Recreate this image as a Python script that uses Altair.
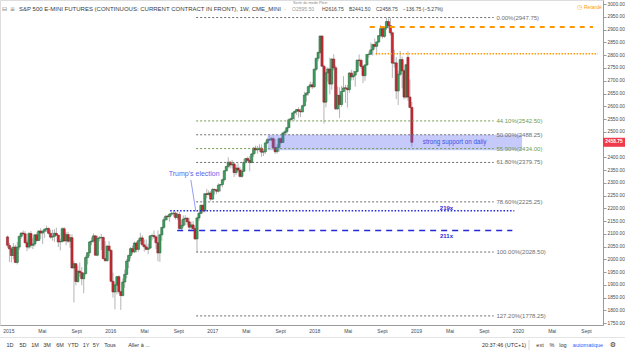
import altair as alt
import numpy as np
import pandas as pd

# ---------------- data: weekly candles (Mondays) ----------------
first_week = "2014-12-29"

open_ = [
    # 2015 (from 2014-12-29)
    2088, 2054, 2041, 2015, 2048, 1988, 2048, 2090, 2103, 2100,
    2065, 2048, 2101, 2055, 2060, 2096, 2074, 2111, 2103, 2110,
    2118, 2121, 2102, 2087, 2090, 2102, 2095, 2068, 2070, 2120,
    2072, 2097, 2071, 2085, 1966, 1983, 1913, 1954, 1948, 1924,
    1944, 2007, 2026, 2068, 2072, 2092, 2016, 2083, 2084, 2086,
    2003, 1995, 2052,
    # 2016
    2035, 1914, 1872, 1899, 1932, 1873, 1858, 1911, 1941, 1993,
    2015, 2042, 2029, 2064, 2039, 2073, 2084, 2057, 2049, 2039,
    2044, 2092, 2093, 2088, 2065, 2025, 2096, 2125, 2155, 2169,
    2167, 2177, 2180, 2181, 2164, 2176, 2121, 2133, 2158, 2161,
    2147, 2126, 2135, 2120, 2080, 2162, 2180, 2212, 2190, 2257,
    2254, 2260,
    # 2017
    2236, 2274, 2272, 2267, 2291, 2293, 2312, 2347, 2364, 2381,
    2370, 2374, 2340, 2358, 2350, 2325, 2345, 2380, 2395, 2388,
    2379, 2413, 2436, 2429, 2431, 2436, 2420, 2422, 2456, 2469,
    2468, 2473, 2438, 2422, 2439, 2473, 2458, 2495, 2500, 2516,
    2547, 2551, 2574, 2580, 2587, 2581, 2578, 2602, 2644, 2652,
    2677, 2684,
    # 2018
    2676, 2745, 2788, 2811, 2875, 2757, 2616, 2731, 2746, 2687,
    2785, 2751, 2590, 2643, 2607, 2658, 2672, 2671, 2665, 2730,
    2715, 2722, 2736, 2781, 2780, 2756, 2720, 2762, 2803, 2804,
    2821, 2842, 2835, 2852, 2877, 2904, 2874, 2907, 2932, 2916,
    2888, 2769, 2770, 2660, 2725, 2783, 2739, 2636, 2792, 2636,
    2595.5,
]

high = [
    2093, 2064, 2049, 2064, 2057, 2068, 2094, 2105, 2113, 2110,
    2077, 2107, 2111, 2083, 2100, 2106, 2114, 2122, 2115, 2121,
    2132, 2125, 2116, 2116, 2118, 2124, 2096, 2080, 2125, 2126,
    2107, 2108, 2099, 2098, 1995, 1984, 1976, 1988, 1970, 1950,
    2015, 2028, 2072, 2086, 2102, 2095, 2093, 2092, 2100, 2089,
    2071, 2057, 2072,
    2040, 1948, 1908, 1935, 1938, 1877, 1925, 1960, 2001, 2018,
    2048, 2053, 2070, 2069, 2083, 2104, 2094, 2077, 2078, 2062,
    2094, 2100, 2113, 2095, 2113, 2100, 2127, 2165, 2173, 2175,
    2182, 2186, 2188, 2187, 2183, 2186, 2155, 2172, 2173, 2166,
    2163, 2148, 2150, 2129, 2167, 2186, 2214, 2214, 2260, 2276,
    2270, 2268,
    2280, 2277, 2276, 2298, 2295, 2316, 2350, 2366, 2400, 2384,
    2390, 2379, 2370, 2376, 2363, 2355, 2394, 2398, 2403, 2405,
    2417, 2440, 2446, 2445, 2451, 2450, 2432, 2462, 2476, 2483,
    2480, 2481, 2472, 2452, 2477, 2478, 2500, 2508, 2519, 2552,
    2556, 2576, 2583, 2590, 2596, 2590, 2606, 2657, 2654, 2680,
    2697, 2694,
    2748, 2790, 2814, 2878, 2879, 2763, 2754, 2752, 2791, 2789,
    2804, 2760, 2677, 2674, 2680, 2718, 2684, 2683, 2734, 2743,
    2740, 2736, 2782, 2803, 2786, 2760, 2764, 2804, 2815, 2850,
    2845, 2865, 2854, 2878, 2918, 2912, 2908, 2947.75, 2944, 2947,
    2893, 2823, 2793, 2738, 2817, 2795, 2745, 2765, 2815, 2705,
    2616.75,
]

low = [
    2046, 1990, 1988, 2000, 1985, 1980, 2037, 2080, 2095, 2062,
    2032, 2040, 2045, 2040, 2050, 2068, 2071, 2080, 2060, 2084,
    2108, 2098, 2081, 2073, 2068, 2092, 2048, 2035, 2066, 2070,
    2055, 2064, 2045, 1965, 1831, 1898, 1908, 1932, 1898, 1867,
    1940, 1980, 2012, 2055, 2066, 2015, 2012, 2070, 2036, 2000,
    1990, 1990, 2030,
    1910, 1850, 1804, 1863, 1866, 1802, 1855, 1888, 1925, 1965,
    2003, 2020, 2025, 2027, 2029, 2060, 2050, 2030, 2036, 2020,
    2040, 2074, 2080, 2040, 1992, 1990, 2073, 2120, 2152, 2153,
    2146, 2170, 2168, 2156, 2155, 2118, 2110, 2124, 2134, 2135,
    2111, 2114, 2111, 2076, 2028.5, 2150, 2177, 2180, 2184, 2240,
    2250, 2229,
    2233, 2254, 2256, 2262, 2266, 2282, 2305, 2345, 2356, 2357,
    2356, 2322, 2330, 2341, 2321, 2320, 2342, 2376, 2385, 2345,
    2379, 2402, 2415, 2414, 2421, 2402, 2405, 2413, 2452, 2463,
    2463, 2435, 2413, 2415, 2421, 2452, 2458, 2490, 2488, 2514,
    2540, 2546, 2544, 2566, 2555, 2558, 2577, 2598, 2617, 2642,
    2673, 2667,
    2673, 2738, 2776, 2805, 2754, 2532, 2596, 2697, 2647, 2665,
    2740, 2585, 2585, 2554, 2598, 2656, 2613, 2595, 2653, 2701,
    2702, 2677, 2731, 2758, 2747, 2691, 2700, 2758, 2790, 2800,
    2798, 2825, 2800, 2848, 2870, 2866, 2868, 2899, 2905, 2878,
    2711, 2752, 2628, 2605, 2717, 2670, 2627, 2630, 2621, 2593,
    2441.5,
]

close_ = [
    2055, 2041, 2015, 2048, 1988, 2048, 2090, 2103, 2100, 2065,
    2048, 2101, 2055, 2060, 2096, 2074, 2111, 2103, 2110, 2118,
    2121, 2102, 2087, 2090, 2102, 2095, 2068, 2070, 2120, 2072,
    2097, 2071, 2085, 1966, 1983, 1913, 1954, 1948, 1924, 1944,
    2007, 2026, 2068, 2072, 2092, 2016, 2083, 2084, 2086, 2003,
    1995, 2052, 2035,
    1914, 1872, 1899, 1932, 1873, 1858, 1911, 1941, 1993, 2015,
    2042, 2029, 2064, 2039, 2073, 2084, 2057, 2049, 2039, 2044,
    2092, 2093, 2088, 2065, 2025, 2096, 2125, 2155, 2169, 2167,
    2177, 2180, 2181, 2164, 2176, 2121, 2133, 2158, 2161, 2147,
    2126, 2135, 2120, 2080, 2162, 2180, 2212, 2190, 2257, 2254,
    2260, 2236,
    2274, 2272, 2267, 2291, 2293, 2312, 2347, 2364, 2381, 2370,
    2374, 2340, 2358, 2350, 2325, 2345, 2380, 2395, 2388, 2379,
    2413, 2436, 2429, 2431, 2436, 2420, 2422, 2456, 2469, 2468,
    2473, 2438, 2422, 2439, 2473, 2458, 2495, 2500, 2516, 2547,
    2551, 2574, 2580, 2587, 2581, 2578, 2602, 2644, 2652, 2677,
    2684, 2676,
    2745, 2788, 2811, 2875, 2757, 2616, 2731, 2746, 2687, 2785,
    2751, 2590, 2643, 2607, 2658, 2672, 2671, 2665, 2730, 2715,
    2722, 2736, 2781, 2780, 2756, 2720, 2762, 2803, 2804, 2821,
    2842, 2835, 2852, 2877, 2904, 2874, 2907, 2932, 2916, 2888,
    2769, 2770, 2660, 2725, 2783, 2739, 2636, 2763, 2636, 2595.5,
    2458.75,
]

# Fibonacci retracement levels
fib_pct = ["0.00%", "44.10%", "50.00%", "55.90%", "61.80%", "78.60%", "100.00%", "127.20%"]
fib_price = [2947.75, 2542.50, 2488.25, 2434.00, 2379.75, 2225.25, 2028.50, 1778.25]
fib_color = ["#6e6e6e", "#6f9a4f", "#6e6e6e", "#6f9a4f", "#6e6e6e", "#6e6e6e", "#6e6e6e", "#6e6e6e"]
fib_from = "2016-11-04T00:00:00"
fib_to = "2019-10-06T00:00:00"
fib_label_at = "2019-10-16T00:00:00"

# horizontal levels drawn by hand
level_price = [2910.75, 2806.0, 2190.0, 2113.0]
level_from = ["2018-07-19T00:00:00", "2018-08-09T00:00:00", "2016-08-03T00:00:00", "2016-08-28T00:00:00"]
level_to = ["2020-09-26T00:00:00", "2020-10-14T00:00:00", "2019-12-19T00:00:00", "2019-12-12T00:00:00"]

# support zone
zone_from, zone_to = "2017-07-18T00:00:00", "2020-01-16T00:00:00"
zone_top, zone_bottom = 2488.25, 2428.0

# axes (the 2450 label is hidden behind the last-price tag in the original)
y_ticks = [1750, 1800, 1850, 1900, 1950, 2000, 2050, 2100, 2150, 2200, 2250, 2300, 2350,
           2400, 2500, 2550, 2600, 2650, 2700, 2750, 2800, 2850, 2900, 2950, 3000]
x_tick_years = [2015, 2016, 2017, 2018, 2019, 2020]
x_tick_months = [1, 5, 9]

# ---------------- build ----------------
weeks = pd.date_range(first_week, periods=len(close_), freq="7D")
candles = pd.DataFrame({"week": weeks, "open": open_, "high": high, "low": low, "close": close_})
candles["dir"] = np.where(candles["close"] >= candles["open"], "up", "down")

FONT = "Liberation Sans"
X_SCALE = alt.Scale(domain=[alt.DateTime(year=2014, month=12, date=20),
                            alt.DateTime(year=2020, month=10, date=14)])
Y_SCALE = alt.Scale(domain=[1742.6, 3016.5], zero=False, nice=False)

x_vals = [alt.DateTime(year=y, month=m, date=1) for y in x_tick_years for m in x_tick_months]
X_AXIS = alt.Axis(values=x_vals, title=None, grid=False, ticks=False,
                  labelExpr="month(datum.value) == 0 ? timeFormat(datum.value, '%Y') : (month(datum.value) == 4 ? 'Mai' : 'Sept')",
                  labelFontSize=5, labelColor="#4a4a4a", labelFont=FONT, labelPadding=3,
                  labelFlush=False, labelOverlap=False, domainColor="#9a9a9a", domainWidth=1)
Y_AXIS = alt.Axis(orient="right", values=y_ticks, format=".2f", title=None, grid=False,
                  labelFontSize=4.8, labelColor="#4a4a4a", labelFont=FONT, labelPadding=1,
                  tickSize=3, tickColor="#9a9a9a", domainColor="#9a9a9a", domainWidth=1,
                  labelFlush=False, labelOverlap=False)


def X(field):
    return alt.X(f"{field}:T", scale=X_SCALE, axis=X_AXIS)


def Y(field):
    return alt.Y(f"{field}:Q", scale=Y_SCALE, axis=Y_AXIS)


wicks = alt.Chart(candles).mark_rule(color="#b5b5b5", strokeWidth=1).encode(
    x=X("week"), y=Y("low"), y2=alt.Y2("high"))

bodies = alt.Chart(candles).mark_bar(size=2.2, strokeWidth=0.5).encode(
    x=X("week"), y=Y("open"), y2=alt.Y2("close"),
    color=alt.Color("dir:N", scale=alt.Scale(domain=["up", "down"], range=["#3f9f5f", "#cc2b35"]), legend=None),
    stroke=alt.Stroke("dir:N", scale=alt.Scale(domain=["up", "down"], range=["#1d5a33", "#7a1a20"]), legend=None),
)

zone = alt.Chart(pd.DataFrame({"a": [zone_from], "b": [zone_to], "top": [zone_top], "bot": [zone_bottom]})).mark_rect(
    color="#5968f1", opacity=0.35).encode(x=X("a"), x2=alt.X2("b"), y=Y("top"), y2=alt.Y2("bot"))

fib_df = pd.DataFrame({
    "price": fib_price, "color": fib_color,
    "label": [f"{p}({v:.2f})" for p, v in zip(fib_pct, fib_price)],
    "a": fib_from, "b": fib_to, "lab": fib_label_at,
})
fib_lines = alt.Chart(fib_df).mark_rule(strokeDash=[2, 2], strokeWidth=1).encode(
    x=X("a"), x2=alt.X2("b"), y=Y("price"), color=alt.Color("color:N", scale=None))
fib_labels = alt.Chart(fib_df).mark_text(align="left", baseline="middle", fontSize=6, font=FONT).encode(
    x=X("lab"), y=Y("price"), text="label:N", color=alt.Color("color:N", scale=None))


def level(i, color, dash, width):
    d = pd.DataFrame({"a": [level_from[i]], "b": [level_to[i]], "p": [level_price[i]]})
    return alt.Chart(d).mark_rule(color=color, strokeDash=dash, strokeWidth=width).encode(
        x=X("a"), x2=alt.X2("b"), y=Y("p"))


orange_dash = level(0, "#ff9800", [5, 5], 2)
orange_dot = level(1, "#ff9800", [1.5, 1.5], 1.5)
blue_dot = level(2, "#2329d6", [1.5, 1.8], 1.5)
blue_dash = level(3, "#2329d6", [6, 5], 1.6)


def note(txt, date, price, size, color, align="center", weight="normal"):
    d = pd.DataFrame({"d": [date], "p": [price], "t": [txt]})
    return alt.Chart(d).mark_text(align=align, baseline="middle", fontSize=size, color=color,
                                  font=FONT, fontWeight=weight).encode(x=X("d"), y=Y("p"), text="t:N")


n219 = note("219x", "2019-04-20T00:00:00", 2200, 6, "#2329d6", weight="bold")
n211 = note("211x", "2019-04-20T00:00:00", 2090, 6, "#2329d6", weight="bold")
support_txt = note("strong support on daily", "2019-01-25T00:00:00", 2458, 6.3, "#3e4ee6", align="left")
trump_txt = note("Trump's election", "2016-10-28T00:00:00", 2335, 7, "#5b63f0")
trump_line = alt.Chart(pd.DataFrame({"a": ["2016-10-16T00:00:00"], "b": ["2016-11-03T00:00:00"],
                                     "p": [2311], "q": [2187]})).mark_rule(color="#7b83f5", strokeWidth=0.8).encode(
    x=X("a"), x2=alt.X2("b"), y=Y("p"), y2=alt.Y2("q"))

last = pd.DataFrame({"close": [close_[-1]], "label": [f"{close_[-1]:.2f}"]})
price_tag = alt.Chart(last).mark_tick(size=22, thickness=9, color="#ef3b4b", opacity=1).encode(
    x=alt.value(614), y=Y("close"))
price_txt = alt.Chart(last).mark_text(fontSize=4.8, color="white", fontWeight="bold", font=FONT).encode(
    x=alt.value(614), y=Y("close"), text="label:N")


def ui(txt, x, y, size=5, color="#333333", align="left", font=FONT, weight="normal"):
    return alt.Chart(alt.Data(values=[{"t": txt}])).mark_text(
        align=align, baseline="middle", fontSize=size, color=color, font=font, fontWeight=weight
    ).encode(x=alt.value(x), y=alt.value(y), text="t:N")


def hline(x1, x2, y, color):
    return alt.Chart(alt.Data(values=[{"t": 0}])).mark_rule(color=color, strokeWidth=1).encode(
        x=alt.value(x1), x2=alt.value(x2), y=alt.value(y))


def vline(x, y1, y2, color):
    return alt.Chart(alt.Data(values=[{"t": 0}])).mark_rule(color=color, strokeWidth=1).encode(
        x=alt.value(x), y=alt.value(y1), y2=alt.value(y2))


header = [
    ui("⊟", 2, 9, size=6, color="#777777", font="DejaVu Sans"),
    ui("≡", 10, 9, size=6, color="#777777", font="DejaVu Sans"),
    ui("S&P 500 E-MINI FUTURES (CONTINUOUS: CURRENT CONTRACT IN FRONT), 1W, CME_MINI", 19, 9, size=6, color="#3a3a3a"),
    ui("·", 284, 9, size=6, color="#777777"),
    ui("O2595.50", 292, 8.5, size=5, color="#9a9a9a"),
    ui("Sortir du mode Plein", 293, 2.5, size=3.8, color="#8a8a8a"),
    ui("H2616.75", 322, 8.5, size=5, color="#444444"),
    ui("B2441.50", 349, 8.5, size=5, color="#444444"),
    ui("C2458.75", 376, 8.5, size=5, color="#444444"),
    ui("−136.75 (−5.27%)", 403, 8.5, size=5, color="#444444"),
    ui("◷", 577, 7, size=6, color="#ff9800", font="DejaVu Sans"),
    ui("Retardé", 584, 7, size=5, color="#ff9800"),
]

toolbar_items = [("1D", 10), ("5D", 23), ("1M", 35), ("3M", 47), ("6M", 60), ("YTD", 73),
                 ("1Y", 86), ("5Y", 96), ("Tous", 110), ("Aller à ...", 139),
                 ("20:37:46 (UTC+1)", 504), ("ext", 540), ("%", 552), ("log", 563)]
toolbar = [ui(t, x, 345, size=5.5, color="#333333", align="center") for t, x in toolbar_items]
toolbar += [
    ui("automatique", 588, 345, size=5.5, color="#2962ff", align="center"),
    ui("⚙", 613, 345, size=7, color="#333333", align="center", font="DejaVu Sans"),
    vline(529, 340, 350, "#d6d6d6"),
    hline(0, 625, 337.5, "#e4e4e4"),
]

layers = [wicks, bodies, zone, fib_lines, fib_labels, orange_dash, orange_dot, blue_dot, blue_dash,
          n219, n211, support_txt, trump_line, trump_txt, price_tag, price_txt] + header + toolbar

chart = alt.layer(*layers).properties(
    width=603, height=325,
    padding={"left": 0, "top": 0, "right": 22, "bottom": 27},
    autosize=alt.AutoSizeParams(type="none"),
    background="white",
).configure_view(stroke=None).configure(font=FONT)

chart.save("out.html", embed_options={"renderer": "svg", "actions": False})
